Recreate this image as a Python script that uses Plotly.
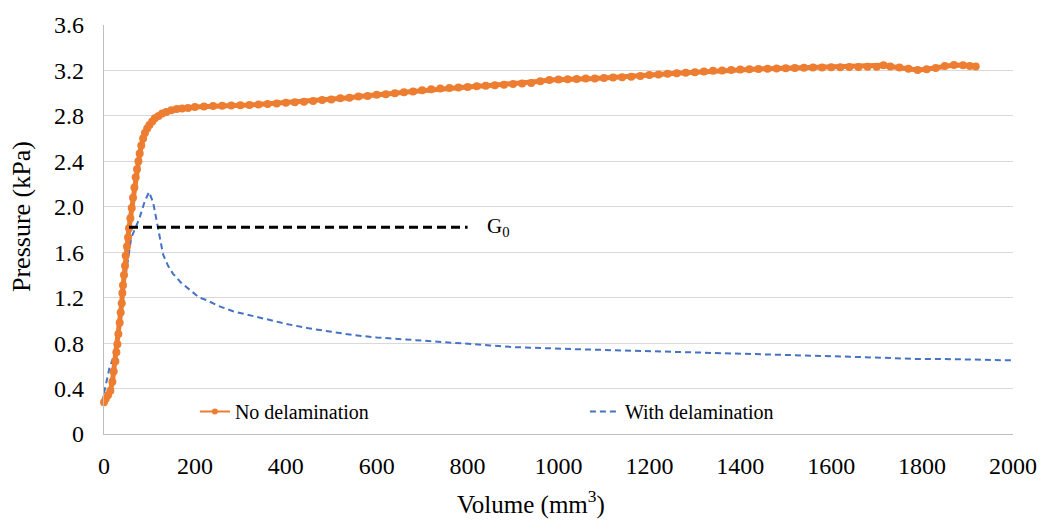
import plotly.graph_objects as go

# ---- data ----
no_delam_x = [0, 4, 8.8, 14, 18.4, 21.3, 25, 27.2, 29.4, 31.6, 34.5, 36.7, 39, 40.4, 41.8, 44, 46.2, 47.7,
              50.6, 52.8, 55, 58, 61, 63.8, 66.9, 69.7, 72.6, 75.7, 78.5, 82, 86, 90, 95, 100, 106, 112,
              120, 128, 137, 148, 160, 172, 185, 200,
              220, 240, 260, 280, 300, 320, 340, 360, 380, 400, 420, 440, 460, 480, 500, 520, 540, 560,
              580, 600, 620, 640, 660, 680, 700, 720, 740, 760, 780, 800, 820, 840, 860, 880, 900, 920,
              940, 960, 980, 1000, 1020, 1040, 1060, 1080, 1100, 1120, 1140, 1160, 1180, 1200, 1220,
              1240, 1260, 1280, 1300, 1320, 1340, 1360, 1380, 1400, 1420, 1440, 1460, 1480, 1500, 1520,
              1540, 1560, 1580, 1600, 1620, 1640, 1660, 1680, 1700, 1715, 1730, 1750, 1770, 1790, 1810,
              1830, 1850, 1870, 1890, 1905, 1918]
no_delam_y = [0.28, 0.31, 0.34, 0.38, 0.46, 0.55, 0.64, 0.72, 0.79, 0.88, 0.98, 1.07, 1.15, 1.24, 1.31,
              1.40, 1.48, 1.57, 1.65, 1.73, 1.81, 1.90, 1.99, 2.08, 2.17, 2.26, 2.33, 2.40, 2.47, 2.54,
              2.60, 2.65, 2.69, 2.72, 2.75, 2.78, 2.80, 2.82, 2.835, 2.85, 2.86, 2.865, 2.87, 2.878,
              2.883, 2.888, 2.89, 2.892, 2.893, 2.895, 2.90, 2.905, 2.91, 2.915, 2.92, 2.925, 2.93, 2.94,
              2.945, 2.955, 2.96, 2.97, 2.975, 2.985, 2.99, 3.00, 3.008, 3.015, 3.025, 3.035, 3.04,
              3.045, 3.05, 3.055, 3.06, 3.065, 3.07, 3.075, 3.08, 3.085, 3.09, 3.105, 3.115, 3.12,
              3.122, 3.125, 3.128, 3.13, 3.133, 3.137, 3.14, 3.145, 3.152, 3.16, 3.165, 3.17, 3.175,
              3.18, 3.185, 3.19, 3.198, 3.20, 3.205, 3.208, 3.21, 3.213, 3.216, 3.218, 3.22, 3.222,
              3.223, 3.225, 3.226, 3.228, 3.229, 3.23, 3.23, 3.232, 3.233, 3.245, 3.235, 3.225, 3.215,
              3.205, 3.21, 3.222, 3.24, 3.248, 3.245, 3.24, 3.235]

with_delam_x = [0, 5, 12, 20, 27, 33, 40, 47, 54, 60, 70, 78, 89, 99, 108, 115, 122, 130, 141, 152, 170,
                189, 210, 225, 250, 284, 320, 357, 400, 450, 504, 550, 600, 650, 700, 750, 797, 850,
                900, 981, 1050, 1100, 1200, 1274, 1350, 1420, 1494, 1560, 1640, 1714, 1787, 1850,
                1920, 2000]
with_delam_y = [0.36, 0.46, 0.58, 0.67, 0.80, 1.00, 1.20, 1.40, 1.60, 1.73, 1.82, 1.90, 2.04, 2.13, 2.04,
                1.90, 1.73, 1.58, 1.48, 1.41, 1.33, 1.27, 1.20, 1.18, 1.13, 1.08, 1.045, 1.01, 0.97,
                0.93, 0.895, 0.87, 0.85, 0.837, 0.82, 0.81, 0.794, 0.78, 0.765, 0.751, 0.745, 0.74,
                0.73, 0.723, 0.715, 0.708, 0.70, 0.69, 0.68, 0.671, 0.66, 0.66, 0.655, 0.648]

g0_x = [55, 800]
g0_y = [1.82, 1.82]
g0_label = "G<sub>0</sub>"

x_ticks = [0, 200, 400, 600, 800, 1000, 1200, 1400, 1600, 1800, 2000]
y_ticks = [0, 0.4, 0.8, 1.2, 1.6, 2.0, 2.4, 2.8, 3.2, 3.6]
y_tick_text = ["0", "0.4", "0.8", "1.2", "1.6", "2.0", "2.4", "2.8", "3.2", "3.6"]

FONT = "Times New Roman, Liberation Serif, serif"
ORANGE = "#ED7D31"
BLUE = "#4472C4"

fig = go.Figure()
fig.add_trace(go.Scatter(
    x=with_delam_x, y=with_delam_y, name="With delamination", mode="lines",
    line=dict(color=BLUE, width=2, dash="6px,4px"), legendrank=2,
))
fig.add_trace(go.Scatter(
    x=no_delam_x, y=no_delam_y, name="No delamination", mode="lines+markers",
    line=dict(color=ORANGE, width=5), marker=dict(color=ORANGE, size=8),
    cliponaxis=False, showlegend=False,
))
# legend entry for the orange series (thin line with a small dot, as in the reference)
fig.add_trace(go.Scatter(
    x=[None], y=[None], name="No delamination", mode="lines+markers",
    line=dict(color=ORANGE, width=2), marker=dict(color=ORANGE, size=6), legendrank=1,
))
fig.add_trace(go.Scatter(
    x=g0_x, y=g0_y, mode="lines", showlegend=False,
    line=dict(color="black", width=3.2, dash="9px,5px"),
))

fig.add_annotation(x=838, y=g0_y[0], xref="x", yref="y", text=g0_label, showarrow=False,
                   xanchor="left", yanchor="middle", font=dict(family=FONT, size=21, color="black"))
fig.add_annotation(x=0.47, y=-0.168, xref="paper", yref="paper", text="Volume (mm<sup>3</sup>)",
                   showarrow=False, xanchor="center", yanchor="middle",
                   font=dict(family=FONT, size=25, color="black"))
fig.add_annotation(x=-0.090, y=0.531, xref="paper", yref="paper", text="Pressure (kPa)",
                   showarrow=False, xanchor="center", yanchor="middle", textangle=-90,
                   font=dict(family=FONT, size=26, color="black"))

fig.update_layout(
    width=1050, height=521,
    margin=dict(l=104, r=37, t=16, b=87),
    paper_bgcolor="white", plot_bgcolor="white",
    font=dict(family=FONT, color="black"),
    legend=dict(orientation="h", x=0.1, y=0.055, xanchor="left", yanchor="middle",
                entrywidth=345, entrywidthmode="pixels",
                font=dict(family=FONT, size=20, color="black"), bgcolor="rgba(0,0,0,0)"),
    xaxis=dict(range=[0, 2000], tickvals=x_ticks, showgrid=False, zeroline=False,
               showline=True, linecolor="#BFBFBF", linewidth=1.3, ticks="",
               ticklabelstandoff=10, tickfont=dict(family=FONT, size=24, color="black")),
    yaxis=dict(range=[0, 3.6], tickvals=y_ticks, ticktext=y_tick_text, showgrid=True,
               gridcolor="#D9D9D9", gridwidth=1, zeroline=False, showline=True,
               linecolor="#BFBFBF", linewidth=1.3, ticks="", ticklabelstandoff=14,
               tickfont=dict(family=FONT, size=24, color="black")),
)

fig.write_html("out.html")
